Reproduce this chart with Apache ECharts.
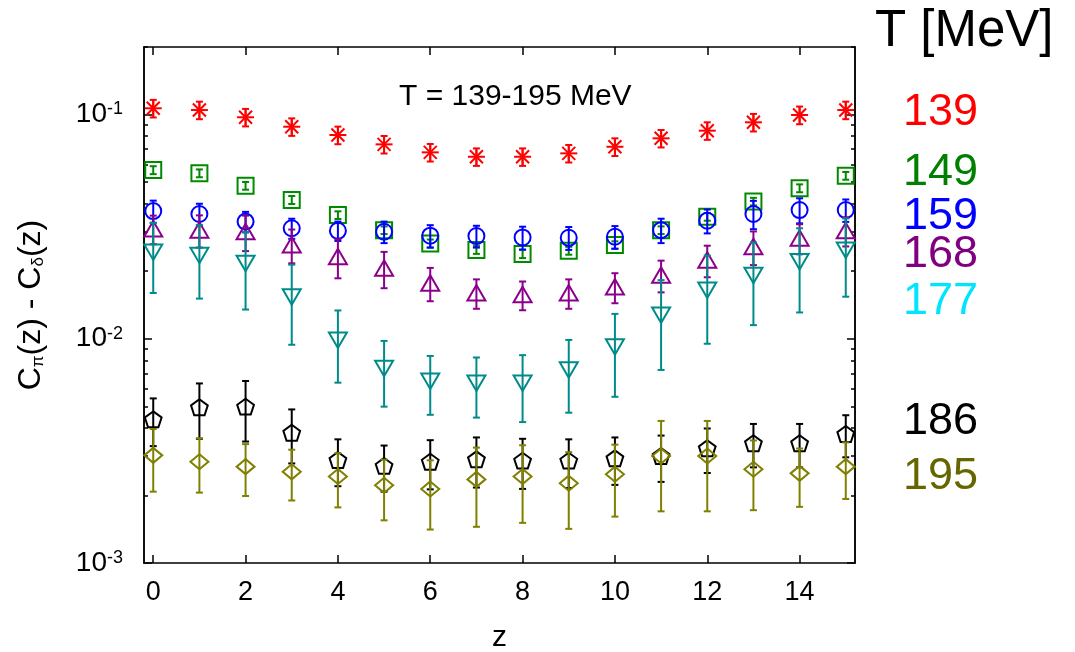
<!DOCTYPE html>
<html><head><meta charset="utf-8">
<script src="https://cdn.jsdelivr.net/npm/echarts@6/dist/echarts.min.js"></script>
<style>html,body{margin:0;padding:0;background:#fff}#c{width:1075px;height:652px}</style>
</head><body><div id="c"></div>
<script>
const zValues = [0,1,2,3,4,5,6,7,8,9,10,11,12,13,14,15];
const xTickValues = [0,2,4,6,8,10,12,14];
const yTickValues = [0.001,0.01,0.1];
const yTickLabels = ['{b|10}{s|-3}','{b|10}{s|-2}','{b|10}{s|-1}'];
const temps = ['139','149','159','168','177','186','195'];

const c139 = [0.1066,0.1047,0.0972,0.0882,0.0810,0.0736,0.0678,0.0648,0.0648,0.0671,0.0718,0.0783,0.0847,0.0923,0.0995,0.1047];
const e139 = [0.0096,0.0094,0.0087,0.0079,0.0073,0.0066,0.0061,0.0058,0.0058,0.0060,0.0065,0.0070,0.0076,0.0083,0.0090,0.0094];
const c149 = [0.0565,0.0547,0.0481,0.0416,0.0356,0.0305,0.0266,0.0249,0.0239,0.0247,0.0262,0.0305,0.0350,0.0409,0.0469,0.0533];
const e149 = [0.0023,0.0022,0.0019,0.0017,0.0014,0.0012,0.0011,0.0010,0.0010,0.0010,0.0010,0.0012,0.0014,0.0016,0.0019,0.0021];
const c159 = [0.0371,0.0360,0.0333,0.0311,0.0303,0.0300,0.0288,0.0287,0.0283,0.0282,0.0285,0.0305,0.0336,0.0360,0.0375,0.0375];
const e159 = [0.0042,0.0040,0.0035,0.0032,0.0030,0.0033,0.0033,0.0032,0.0033,0.0033,0.0033,0.0038,0.0041,0.0052,0.0048,0.0043];
const c168 = [0.0309,0.0305,0.0300,0.0262,0.0232,0.0206,0.0177,0.0160,0.0157,0.0160,0.0170,0.0192,0.0224,0.0257,0.0281,0.0303];
const e168 = [0.0045,0.0050,0.0054,0.0045,0.0046,0.0038,0.0030,0.0024,0.0023,0.0024,0.0026,0.0031,0.0036,0.0044,0.0043,0.0045];
const c177 = [0.0244,0.0236,0.0217,0.0154,0.00987,0.00738,0.00648,0.00635,0.00635,0.00728,0.00921,0.01276,0.0165,0.0192,0.0221,0.0249];
const e177 = [0.0084,0.0085,0.0082,0.0060,0.0035,0.0024,0.0019,0.0019,0.0021,0.0026,0.0037,0.0055,0.0070,0.0077,0.0090,0.0095];
const c186 = [0.00437,0.00495,0.00498,0.00381,0.00288,0.00271,0.00283,0.00290,0.00286,0.00286,0.00293,0.00300,0.00325,0.00342,0.00342,0.00376];
const e186 = [0.00105,0.00137,0.00150,0.00103,0.00068,0.00063,0.00070,0.00073,0.00072,0.00070,0.00070,0.00070,0.00073,0.00075,0.00075,0.00080];
const c195 = [0.00302,0.00283,0.00269,0.00255,0.00243,0.00222,0.00214,0.00236,0.00243,0.00227,0.00249,0.00300,0.00300,0.00262,0.00251,0.00269];
const e195 = [0.00094,0.00077,0.00070,0.00065,0.00066,0.00067,0.00073,0.00091,0.00092,0.00085,0.00088,0.00130,0.00130,0.00090,0.00073,0.00076];

const seriesVals = [c139,c149,c159,c168,c177,c186,c195];
const seriesErrs = [e139,e149,e159,e168,e177,e186,e195];
const markColors = ['#ff0000','#008a00','#0000ff','#8b008b','#008b8b','#000000','#808000'];
const labelColors = ['#ff0000','#008000','#0000ff','#800080','#00e5ff','#000000','#666600'];
const shapes = ['star','square','circle','tri','itri','pent','diamond'];
const labelY = [113,173,217,255,302,422,477];

const FONT = "'Liberation Sans', Arial, Helvetica, sans-serif";

function markerShape(kind, cx, cy, style) {
  if (kind === 'star') {
    const r = 8.5, d = 6.5;
    return [
      {type:'line', shape:{x1:cx-r,y1:cy,x2:cx+r,y2:cy}, style},
      {type:'line', shape:{x1:cx,y1:cy-r,x2:cx,y2:cy+r}, style},
      {type:'line', shape:{x1:cx-d,y1:cy-d,x2:cx+d,y2:cy+d}, style},
      {type:'line', shape:{x1:cx-d,y1:cy+d,x2:cx+d,y2:cy-d}, style}
    ];
  }
  if (kind === 'square') return [{type:'rect', shape:{x:cx-8,y:cy-8,width:16,height:16}, style}];
  if (kind === 'circle') return [{type:'circle', shape:{cx, cy, r:8}, style}];
  if (kind === 'tri') return [{type:'polygon', shape:{points:[[cx,cy-8],[cx+9,cy+7.5],[cx-9,cy+7.5]]}, style}];
  if (kind === 'itri') return [{type:'polygon', shape:{points:[[cx,cy+8],[cx+9,cy-7.5],[cx-9,cy-7.5]]}, style}];
  if (kind === 'pent') {
    const r = 8.8, pts = [], off = 0.0955*r;
    for (let k=0;k<5;k++){ const a = (-90 + 72*k)*Math.PI/180; pts.push([cx + r*Math.cos(a), cy + off + r*Math.sin(a)]); }
    return [{type:'polygon', shape:{points:pts}, style}];
  }
  return [{type:'polygon', shape:{points:[[cx,cy-7.5],[cx+9,cy],[cx,cy+7.5],[cx-9,cy]]}, style}];
}

function makeSeries(i) {
  const vals = seriesVals[i], errs = seriesErrs[i], color = markColors[i], kind = shapes[i];
  return {
    type: 'custom', name: temps[i], xAxisIndex: 0, yAxisIndex: 0, z: 10 + i,
    data: zValues.map((z, k) => [z, vals[k], vals[k] - errs[k], vals[k] + errs[k]]),
    renderItem: function (params, api) {
      const p = api.coord([api.value(0), api.value(1)]);
      const pl = api.coord([api.value(0), api.value(2)]);
      const ph = api.coord([api.value(0), api.value(3)]);
      const st = {stroke: color, lineWidth: 2, fill: null};
      const cw = 3.5;
      const children = [
        {type:'line', shape:{x1:p[0],y1:pl[1],x2:p[0],y2:ph[1]}, style: st},
        {type:'line', shape:{x1:p[0]-cw,y1:pl[1],x2:p[0]+cw,y2:pl[1]}, style: st},
        {type:'line', shape:{x1:p[0]-cw,y1:ph[1],x2:p[0]+cw,y2:ph[1]}, style: st}
      ].concat(markerShape(kind, p[0], p[1], st));
      return {type:'group', children};
    }
  };
}

const minorVals = [];
[0.001,0.01,0.1].forEach(d => { for (let k=2;k<=9;k++){ const v = +(k*d).toPrecision(3); if (v <= 0.2) minorVals.push(v); } });

const lineStyle = {color:'#000', width:1.5};
function xAx(pos, showLabel) {
  return {
    type:'value', min:-0.2, max:15.2, position:pos,
    axisLine:{show:true, onZero:false, lineStyle},
    axisTick:{show:true, inside:true, length:8, customValues:xTickValues, lineStyle},
    axisLabel:{show:showLabel, customValues:xTickValues, fontSize:27, margin:16, color:'#000', fontFamily:FONT},
    splitLine:{show:false}
  };
}
function yAx(pos, major, showLabel) {
  return {
    type:'log', logBase:10, min:0.001, max:0.2, position:pos,
    axisLine:{show:true, onZero:false, lineStyle},
    axisTick:{show:true, inside:true, length: major ? 8 : 4, customValues: major ? yTickValues : minorVals, lineStyle},
    axisLabel:{show:showLabel, customValues:yTickValues, margin:21, color:'#000', fontFamily:FONT,
      formatter: function (v) { const idx = yTickValues.findIndex(t => Math.abs(Math.log10(t) - Math.log10(v)) < 1e-6); return idx >= 0 ? yTickLabels[idx] : ''; },
      rich:{
        b:{fontSize:28, fontFamily:FONT, color:'#000', verticalAlign:'bottom', lineHeight:28},
        s:{fontSize:18, fontFamily:FONT, color:'#000', verticalAlign:'top', lineHeight:18, padding:[0,0,14,0]}
      },
      fontSize:28},
    splitLine:{show:false}, minorTick:{show:false}
  };
}

const graphics = [
  {type:'text', x:399, y:97, style:{text:'T = 139-195 MeV', fontSize:30, fontFamily:FONT, fill:'#000', align:'left', verticalAlign:'middle'}, z:100},
  {type:'text', x:875, y:32, style:{text:'T [MeV]', fontSize:51, fontFamily:FONT, fill:'#000', align:'left', verticalAlign:'middle'}, z:100},
  {type:'text', x:499.5, y:638, style:{text:'z', fontSize:30, fontFamily:FONT, fill:'#000', align:'center', verticalAlign:'middle'}, z:100},
  {type:'text', x:31, y:305, rotation:Math.PI/2,
    style:{text:'C{s|π}(z) - C{s|δ}(z)', fontSize:32, fontFamily:FONT, fill:'#000', align:'center', verticalAlign:'middle',
      rich:{s:{fontSize:17, fontFamily:FONT, fill:'#000', verticalAlign:'bottom', padding:[10,0,0,0]}}}, z:100}
];
temps.forEach((t, i) => {
  graphics.push({type:'text', x:903, y:labelY[i], style:{text:t, fontSize:45, fontFamily:FONT, fill:labelColors[i], align:'left', verticalAlign:'middle'}, z:100});
});

const chart = echarts.init(document.getElementById('c'), null, {renderer:'canvas'});
chart.setOption({
  animation:false,
  backgroundColor:'#fff',
  grid:{left:144, right:220, top:47, bottom:89, containLabel:false},
  xAxis:[xAx('bottom', true), xAx('top', false)],
  yAxis:[yAx('left', true, true), yAx('left', false, false), yAx('right', true, false), yAx('right', false, false)],
  series: temps.map((t, i) => makeSeries(i)),
  graphic: graphics
});
</script></body></html>
